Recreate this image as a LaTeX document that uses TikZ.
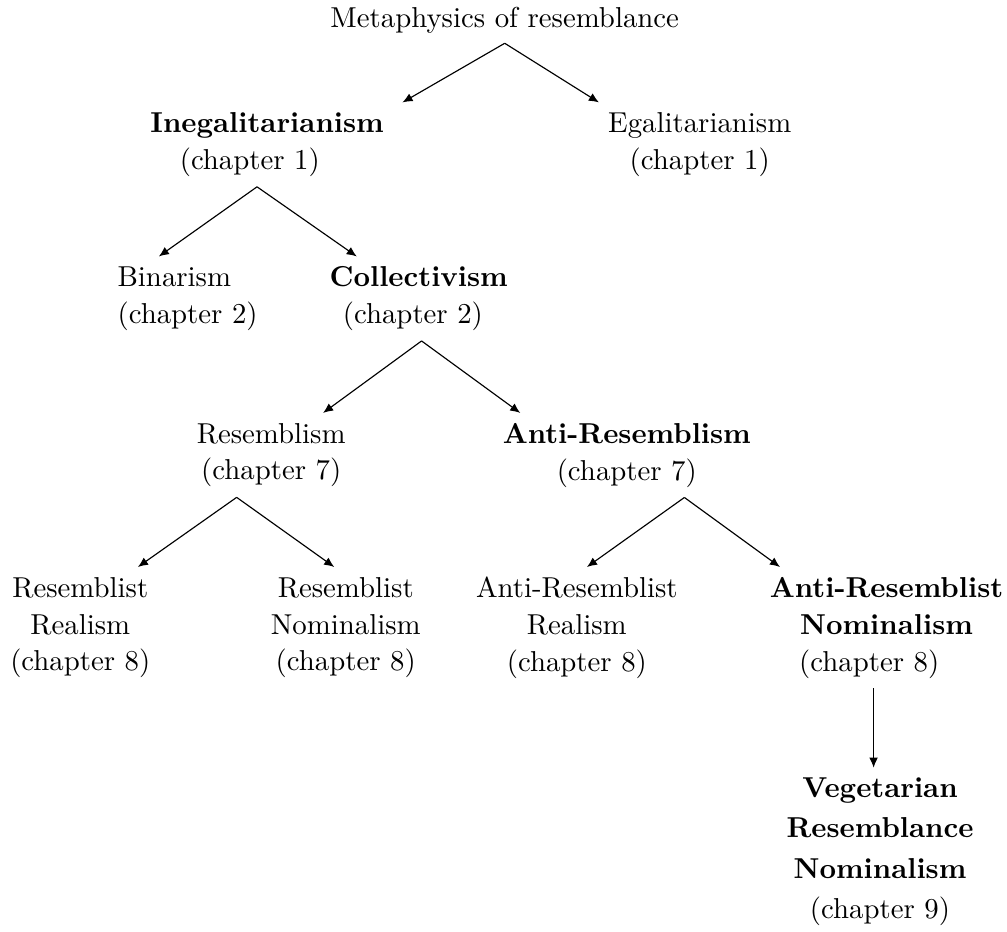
\documentclass[tikz,border=0pt]{standalone}
\usetikzlibrary{arrows.meta}
\tikzset{
    concept/.style = {anchor=north, align=center, font=\fontsize{10}{12.8}\selectfont},
    conceptv/.style = {anchor=north, align=center, font=\fontsize{10}{14}\selectfont},
    edgen/.style = {-{Latex[length=3.5pt,width=3pt]}, thin, black}
}
\begin{document}
\begin{tikzpicture}
\useasboundingbox (0,0) rectangle (12.29,-11.37);

\node[concept] at ( 6.16,  0.04) (meta) {Metaphysics of resemblance};
\node[concept] at ( 3.26, -1.25) (ineg) {\textbf{Inegalitarianism}\\(chapter 1)\hspace*{12pt}};
\node[concept] at ( 8.54, -1.25) (egal) {Egalitarianism\\(chapter 1)};
\node[concept, align=left] at ( 2.29, -3.13) (bin) {Binarism\\(chapter 2)};
\node[concept] at ( 5.11, -3.13) (coll) {\textbf{Collectivism}\\(chapter 2)\hspace*{4pt}};
\node[concept] at ( 3.31, -5.04) (res) {Resemblism\\(chapter 7)};
\node[concept] at ( 7.65, -5.04) (ares) {\textbf{Anti-Resemblism}\\(chapter 7)};
\node[concept] at ( 0.98, -6.92) (rr) {Resemblist\\Realism\\(chapter 8)};
\node[concept] at ( 4.22, -6.92) (rn) {Resemblist\\Nominalism\\(chapter 8)};
\node[concept] at ( 7.04, -6.92) (arr) {Anti-Resemblist\\Realism\\(chapter 8)};
\node[concept] at (10.82, -6.92) (arn) {\textbf{Anti-Resemblist}\\\textbf{Nominalism}\hspace*{4pt}\\(chapter 8)\hspace*{12pt}};
\node[conceptv] at (10.74, -9.37) (veg) {\textbf{Vegetarian}\\\textbf{Resemblance}\\\textbf{Nominalism}\\(chapter 9)};

% level 1
\draw[edgen] (meta.south) -- ([xshift=47pt]ineg.north);
\draw[edgen] (meta.south) -- ([xshift=-35pt]egal.north);
% level 2
\draw[edgen] ([xshift=-3.5pt]ineg.south) -- ([xshift=-10pt]bin.north);
\draw[edgen] ([xshift=-3.5pt]ineg.south) -- ([xshift=-21.5pt]coll.north);
% level 3
\draw[edgen] ([xshift=1pt]coll.south) -- ([xshift=18pt]res.north);
\draw[edgen] ([xshift=1pt]coll.south) -- ([xshift=-37pt]ares.north);
% level 4
\draw[edgen] ([xshift=-12pt]res.south) -- ([xshift=20pt]rr.north);
\draw[edgen] ([xshift=-12pt]res.south) -- ([xshift=-4pt]rn.north);
\draw[edgen] ([xshift=20pt]ares.south) -- ([xshift=3.5pt]arr.north);
\draw[edgen] ([xshift=20pt]ares.south) -- ([xshift=-37pt]arn.north);
% level 5
\draw[edgen] ([xshift=-4.5pt]arn.south) -- ([xshift=-4.5pt]arn.south |- veg.north);

\end{tikzpicture}
\end{document}
